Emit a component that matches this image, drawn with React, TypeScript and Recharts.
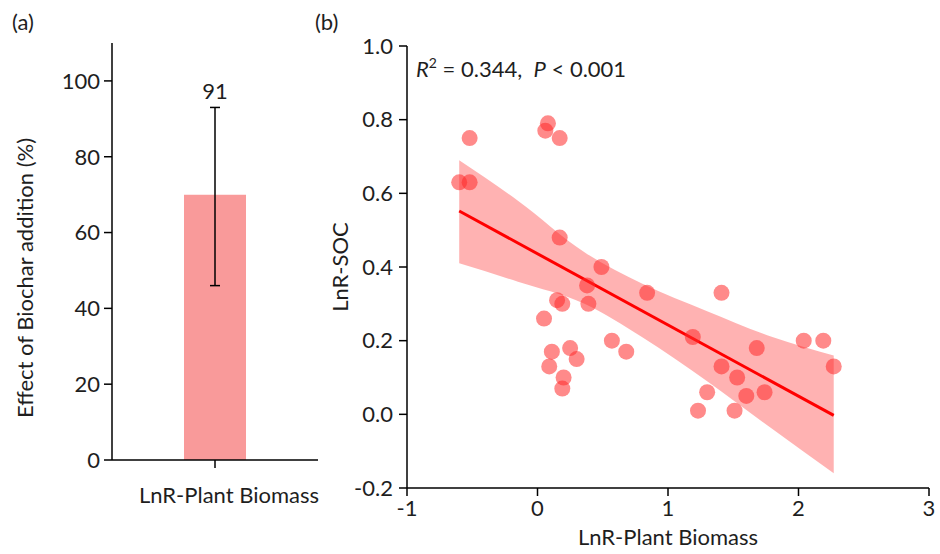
import React from "react";
import {
  BarChart,
  Bar,
  ErrorBar,
  LabelList,
  ComposedChart,
  Area,
  Line,
  Scatter,
  XAxis,
  YAxis,
} from "recharts";

// panel (a)
const barCategories = ["LnR-Plant Biomass"];
const barMeans = [70];
const barLow = [46];
const barHigh = [93];
const barCounts = ["91"];

// panel (b) points
const biomassX = [
  -0.6, -0.52, -0.52, 0.06, 0.08, 0.17, 0.17, 0.49, 0.38, 0.84, 0.15, 0.19,
  0.39, 0.05, 0.57, 0.68, 0.11, 0.25, 0.3, 0.09, 0.2, 0.19, 1.41, 1.19, 1.68,
  1.41, 1.53, 1.3, 1.6, 1.74, 1.23, 1.51, 2.04, 2.19, 2.27,
];
const socY = [
  0.63, 0.63, 0.75, 0.77, 0.79, 0.75, 0.48, 0.4, 0.35, 0.33, 0.31, 0.3, 0.3,
  0.26, 0.2, 0.17, 0.17, 0.18, 0.15, 0.13, 0.1, 0.07, 0.33, 0.21, 0.18, 0.13,
  0.1, 0.06, 0.05, 0.06, 0.01, 0.01, 0.2, 0.2, 0.13,
];

// fitted line and 95% band
const fitX = [-0.6, 2.27];
const fitY = [0.552, -0.003];
const bandX = [-0.6, -0.15, 0.36, 0.8, 1.3, 1.8, 2.27];
const bandLow = [0.41, 0.36, 0.3, 0.21, 0.09, -0.04, -0.16];
const bandHigh = [0.69, 0.58, 0.44, 0.355, 0.28, 0.21, 0.16];

const xTicks = [-1, 0, 1, 2, 3];
const yTicks = [-0.2, 0, 0.2, 0.4, 0.6, 0.8, 1.0];
const barTicks = [0, 20, 40, 60, 80, 100];

const barRows = barCategories.map((name, i) => ({
  name,
  value: barMeans[i],
  err: [barMeans[i] - barLow[i], barHigh[i] - barMeans[i]],
  n: barCounts[i],
}));
const points = biomassX.map((x, i) => ({ x, y: socY[i] }));
const fitRows = fitX.map((x, i) => ({ x, fit: fitY[i] }));
const bandRows = bandX.map((x, i) => ({ x, band: [bandLow[i], bandHigh[i]] }));

const FONT = "Lato, 'Open Sans', sans-serif";
const INK = "#1e1e1e";
const tickStyle = { fill: INK, fontSize: 22, fontFamily: FONT };
const axisLine = { stroke: "#000", strokeWidth: 1.5 };

const Dot = (props: any) => (
  <circle cx={props.cx} cy={props.cy} r={8} fill="#ff2a2a" fillOpacity={0.55} />
);

export default function App() {
  return (
    <div
      style={{
        position: "absolute",
        left: 0,
        top: 0,
        width: 940,
        height: 554,
        background: "#fff",
        fontFamily: FONT,
      }}
    >
      <div style={{ position: "absolute", left: 0, top: 0 }}>
        <BarChart
          width={330}
          height={554}
          data={barRows}
          margin={{ top: 43, right: 12, left: 0, bottom: 0 }}
        >
          <XAxis
            dataKey="name"
            height={94}
            tickFormatter={() => ""}
            tickSize={8}
            axisLine={axisLine}
            tickLine={axisLine}
          />
          <YAxis
            width={112}
            domain={[0, 110]}
            ticks={barTicks}
            tickSize={8}
            tickMargin={4}
            tick={tickStyle}
            axisLine={axisLine}
            tickLine={axisLine}
          />
          <Bar dataKey="value" fill="#f99a9a" barSize={62} isAnimationActive={false}>
            <ErrorBar dataKey="err" width={5} stroke="#000" strokeWidth={1.5} direction="y" />
            <LabelList dataKey="n" position="top" offset={96} style={tickStyle} />
          </Bar>
        </BarChart>
      </div>

      <div style={{ position: "absolute", left: 330, top: 0 }}>
        <ComposedChart
          width={610}
          height={554}
          margin={{ top: 46, right: 11, left: 0, bottom: 0 }}
        >
          <XAxis
            type="number"
            dataKey="x"
            domain={[-1, 3]}
            ticks={xTicks}
            height={66}
            tickSize={8}
            tickMargin={4}
            tick={tickStyle}
            axisLine={axisLine}
            tickLine={axisLine}
            allowDataOverflow
          />
          <YAxis
            type="number"
            width={77}
            domain={[-0.2, 1]}
            ticks={yTicks}
            tickFormatter={(v: number) => v.toFixed(1)}
            tickSize={8}
            tickMargin={6}
            tick={tickStyle}
            axisLine={axisLine}
            tickLine={axisLine}
            allowDataOverflow
          />
          <Area
            data={bandRows}
            dataKey="band"
            type="monotone"
            stroke="none"
            fill="#ff0000"
            fillOpacity={0.3}
            isAnimationActive={false}
          />
          <Scatter data={points} dataKey="y" shape={Dot} isAnimationActive={false} />
          <Line
            data={fitRows}
            dataKey="fit"
            stroke="#ff0000"
            strokeWidth={3}
            dot={false}
            isAnimationActive={false}
          />
        </ComposedChart>
      </div>

      <svg
        width={940}
        height={554}
        style={{ position: "absolute", left: 0, top: 0, pointerEvents: "none" }}
        fontFamily={FONT}
        fontSize={22}
        fill={INK}
      >
        <text x={12} y={30}>(a)</text>
        <text x={315} y={30}>(b)</text>
        <text x={33} y={278} textAnchor="middle" transform="rotate(-90 33 278)">
          Effect of Biochar addition (%)
        </text>
        <text x={229} y={503} textAnchor="middle">LnR-Plant Biomass</text>
        <text x={348} y={267} textAnchor="middle" transform="rotate(-90 348 267)">
          LnR-SOC
        </text>
        <text x={668} y={545} textAnchor="middle">LnR-Plant Biomass</text>
        <text x={416} y={77}>
          <tspan fontStyle="italic">R</tspan>
          <tspan dy={-9} fontSize={14}>2</tspan>
          <tspan dy={9}>{"\u00a0= 0.344,\u00a0\u00a0"}</tspan>
          <tspan fontStyle="italic">P</tspan>
          <tspan>{"\u00a0< 0.001"}</tspan>
        </text>
      </svg>
    </div>
  );
}
